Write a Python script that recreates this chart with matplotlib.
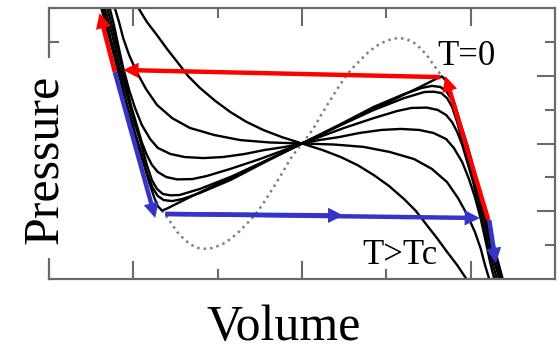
import matplotlib
matplotlib.use("Agg")
import matplotlib.pyplot as plt
from matplotlib.patches import Rectangle

# ---------------- data (V in 0..6, P in 0..8) ----------------
hot_x = [1.06,1.16,1.28,1.40,1.52,1.65,1.79,1.97,2.15,2.34,2.54,2.76,3.00,3.24,3.46,3.66,3.85,4.03,4.21,4.35,4.48,4.60,4.72,4.84,4.95]
hot_y = [8.0,7.59,7.20,6.79,6.41,5.99,5.64,5.26,4.93,4.64,4.40,4.19,4.00,3.81,3.60,3.36,3.07,2.75,2.36,2.01,1.59,1.21,0.80,0.41,0.0]

crit_x = [0.78,0.83,0.88,0.95,1.04,1.15,1.28,1.46,1.67,1.96,2.27,2.62,3.00,3.38,3.73,4.04,4.33,4.54,4.72,4.85,4.96,5.05,5.12,5.17,5.22]
crit_y = [8.0,7.59,7.11,6.61,6.11,5.61,5.14,4.75,4.46,4.25,4.10,4.03,4.00,3.97,3.90,3.75,3.54,3.25,2.86,2.39,1.89,1.39,0.89,0.41,0.0]

iso_a_x = [0.72,0.77,0.82,0.88,0.95,1.02,1.10,1.20,1.29,1.44,1.61,1.83,2.06,2.32,2.56,2.80,3.00,
           3.20,3.44,3.68,3.94,4.17,4.39,4.56,4.71,4.80,4.90,4.98,5.05,5.12,5.18,5.23,5.28]
iso_a_y = [8.0,7.50,6.91,6.23,5.58,5.05,4.55,4.13,3.87,3.69,3.60,3.57,3.60,3.69,3.81,3.90,4.00,
           4.10,4.19,4.31,4.40,4.43,4.40,4.31,4.13,3.87,3.45,2.95,2.42,1.77,1.09,0.50,0.00]

iso_b_x = [0.69,0.76,0.83,0.90,0.97,1.04,1.10,1.16,1.22,1.29,1.39,1.52,1.70,1.87,2.15,2.50,3.00,
           3.50,3.85,4.13,4.30,4.48,4.61,4.71,4.78,4.84,4.90,4.96,5.03,5.10,5.17,5.24,5.31]
iso_b_y = [8.0,7.35,6.61,5.88,5.14,4.55,4.04,3.66,3.37,3.16,3.01,2.94,2.95,3.04,3.25,3.54,4.00,
           4.46,4.75,4.96,5.05,5.06,4.99,4.84,4.63,4.34,3.96,3.45,2.86,2.12,1.39,0.65,0.00]

iso_c_x = [0.66,0.75,0.84,0.94,1.01,1.08,1.16,1.22,1.28,1.35,1.44,1.55,1.79,2.15,2.56,3.00,
           3.44,3.85,4.21,4.45,4.56,4.65,4.72,4.78,4.84,4.92,4.99,5.06,5.16,5.25,5.34]
iso_c_y = [8.0,7.20,6.23,5.28,4.64,4.10,3.37,2.92,2.66,2.51,2.47,2.48,2.66,3.01,3.48,4.00,
           4.52,4.99,5.34,5.52,5.53,5.49,5.34,5.08,4.63,3.90,3.36,2.72,1.77,0.80,0.00]

iso_d_x = [0.64,0.72,0.82,0.91,1.01,1.12,1.17,1.23,1.29,1.36,1.46,1.58,1.79,2.15,2.56,3.00,
           3.44,3.85,4.21,4.42,4.54,4.64,4.71,4.77,4.83,4.88,4.99,5.09,5.18,5.28,5.36]
iso_d_y = [8.0,7.20,6.23,5.28,4.40,3.51,3.07,2.69,2.45,2.33,2.30,2.36,2.54,2.92,3.45,4.00,
           4.55,5.08,5.46,5.64,5.70,5.67,5.55,5.31,4.93,4.49,3.60,2.72,1.77,0.80,0.00]

t0_x = [0.60,0.62,0.69,0.76,0.83,0.90,0.97,1.04,1.12,1.19,1.25,1.29,1.34,1.40,1.60,2.00,2.40,2.80,3.00,
        3.20,3.60,4.00,4.40,4.60,4.66,4.71,4.75,4.81,4.88,4.96,5.03,5.10,5.17,5.24,5.31,5.38,5.40]
t0_y = [8.15,8.00,7.35,6.70,6.02,5.34,4.69,4.04,3.42,2.83,2.39,2.15,2.02,2.08,2.33,2.81,3.28,3.76,4.00,
        4.24,4.72,5.19,5.67,5.92,5.98,5.85,5.61,5.17,4.58,3.96,3.31,2.66,1.98,1.30,0.65,0.00,-0.15]

spin_x = [1.34,1.44,1.52,1.60,1.67,1.76,1.83,1.91,1.99,2.08,2.15,2.24,2.32,2.40,2.47,2.55,2.62,2.70,2.78,2.86,
          2.93,3.00,3.07,3.14,3.22,3.30,3.38,3.45,3.53,3.60,3.68,3.76,3.85,3.92,4.01,4.09,4.17,4.24,4.33,4.40,
          4.48,4.56,4.66]
spin_y = [2.02,1.68,1.39,1.18,1.03,0.92,0.89,0.90,0.96,1.06,1.18,1.36,1.57,1.77,1.98,2.27,2.54,2.86,3.19,3.54,
          3.78,4.00,4.22,4.46,4.81,5.14,5.46,5.73,6.02,6.23,6.43,6.64,6.82,6.94,7.04,7.10,7.11,7.08,6.97,6.82,
          6.61,6.32,5.98]

# thermodynamic path arrows: (start, tip)
red_arrows = [((4.64, 5.96), (0.88, 6.17)),    # compression along the top
              ((0.78, 6.11), (0.60, 7.85)),    # up the left branch
              ((5.21, 1.74), (4.70, 5.99))]    # up the right branch
blue_arrows = [((0.78, 6.11), (1.26, 1.80)),   # down the left branch
               ((1.38, 1.92), (5.11, 1.80)),   # expansion along the bottom
               ((1.38, 1.92), (3.49, 1.875)),  # mid-line arrowhead
               ((5.22, 1.74), (5.30, 0.47))]   # down the right branch

label_t0 = "T=0"
label_hot = "T>Tc"
xlabel = "Volume"
ylabel = "Pressure"

# ---------------- figure ----------------
W, H = 557, 360
fig = plt.figure(figsize=(W / 100, H / 100), dpi=100)
ax = fig.add_axes([49 / W, 1 - 279 / H, (555 - 49) / W, (279 - 8) / H])
ax.set_xlim(0, 6)
ax.set_ylim(0, 8)

serif = ["Liberation Serif", "DejaVu Serif"]
spine_col = "#6a6a6a"

ax.plot(spin_x, spin_y, color="#808080", lw=1.8, linestyle=(0, (1, 1.6)), zorder=1)
for xs, ys in [(hot_x, hot_y), (crit_x, crit_y), (iso_a_x, iso_a_y), (iso_b_x, iso_b_y),
               (iso_c_x, iso_c_y), (iso_d_x, iso_d_y), (t0_x, t0_y)]:
    ax.plot(xs, ys, color="black", lw=1.7, zorder=2, solid_joinstyle="round")

astyle = "simple,head_length=1.1,head_width=1.1,tail_width=0.32"
for (s, t) in red_arrows:
    ax.annotate("", xy=t, xytext=s,
                arrowprops=dict(arrowstyle=astyle, mutation_scale=10, facecolor="#ff0000",
                                edgecolor="none", lw=0, shrinkA=0, shrinkB=0), zorder=4)
for (s, t) in blue_arrows:
    ax.annotate("", xy=t, xytext=s,
                arrowprops=dict(arrowstyle=astyle, mutation_scale=10, facecolor="#3434c8",
                                edgecolor="none", lw=0, shrinkA=0, shrinkB=0), zorder=4)

ax.text(4.60, 6.32, label_t0, family=serif, fontsize=25, ha="left", va="baseline", zorder=5)
ax.text(3.71, 0.44, label_hot, family=serif, fontsize=25, ha="left", va="baseline", zorder=5)

ax.set_xticks([1, 3, 5])
ax.set_xticks([2, 4], minor=True)
ax.set_yticks([2, 4, 6])
ax.set_yticks([1, 3, 5, 7], minor=True)
ax.tick_params(which="both", direction="in", top=True, right=True, bottom=True, left=True,
               labelbottom=False, labelleft=False, color=spine_col, width=1.5)
ax.tick_params(which="major", length=13)
ax.tick_params(which="minor", length=7)
for sp in ax.spines.values():
    sp.set_color(spine_col)
    sp.set_linewidth(1.6)

# white box behind the y label that hides part of the left frame
fig.add_artist(Rectangle((0, 1 - 258 / H), 70 / W, 200 / H, transform=fig.transFigure,
                         facecolor="white", edgecolor="none", zorder=2.5))

fig.text(57 / W, 1 - 159 / H, ylabel, family=serif, fontsize=36, rotation=90,
         rotation_mode="anchor", ha="center", va="baseline", zorder=3)
fig.text(283.5 / W, 1 - 340 / H, xlabel, family=serif, fontsize=36, ha="center",
         va="baseline", zorder=3)

fig.savefig("out.png", dpi=100)
